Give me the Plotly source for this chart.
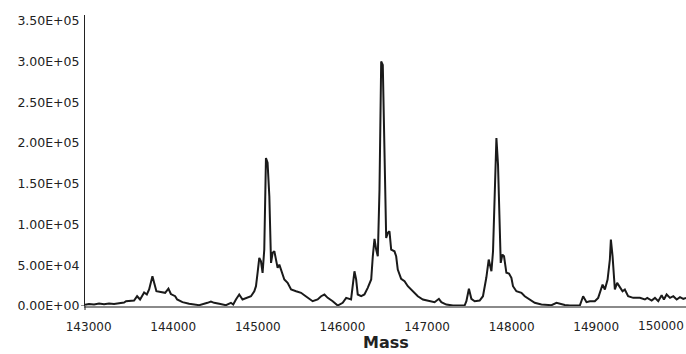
import plotly.graph_objects as go

mass = [142957, 143004, 143064, 143123, 143182, 143241, 143300, 143360, 143419, 143442,
        143502, 143537, 143573, 143608, 143656, 143688, 143715, 143754, 143801, 143853,
        143904, 143943, 143972, 144023, 144046, 144109, 144188, 144307, 144366, 144405,
        144445, 144484, 144544, 144623, 144682, 144709, 144741, 144780, 144819, 144860,
        144919, 144958, 144978, 144997, 145017, 145037, 145056, 145076, 145096, 145115,
        145136, 145156, 145175, 145195, 145215, 145234, 145254, 145274, 145313, 145352,
        145393, 145452, 145511, 145550, 145589, 145648, 145707, 145748, 145787, 145826,
        145885, 145944, 146003, 146044, 146102, 146142, 146162, 146181, 146221, 146260,
        146299, 146340, 146359, 146379, 146399, 146418, 146438, 146458, 146477, 146497,
        146517, 146536, 146556, 146576, 146615, 146635, 146654, 146694, 146734, 146773,
        146813, 146852, 146891, 146951, 147030, 147089, 147140, 147169, 147228, 147306,
        147444, 147465, 147495, 147524, 147563, 147622, 147661, 147701, 147729, 147761,
        147780, 147800, 147820, 147839, 147859, 147871, 147891, 147910, 147938, 147969,
        147997, 148016, 148056, 148116, 148155, 148214, 148273, 148352, 148412, 148471,
        148530, 148569, 148628, 148688, 148806, 148845, 148885, 148924, 148983, 149023,
        149075, 149102, 149134, 149161, 149173, 149193, 149220, 149247, 149279, 149311,
        149338, 149377, 149437, 149516, 149575, 149603, 149655, 149694, 149733, 149773,
        149800, 149832, 149872, 149911, 149951, 149990, 150029, 150061]

intensity = [1500, 2500, 1800, 3100, 2200, 3100, 2500, 3100, 4300, 5900,
             6700, 6700, 12000, 8000, 16500, 14100, 20200, 36500, 18100, 16900,
             16200, 21400, 14700, 12000, 8000, 4700, 2700, 1000, 2500, 3900,
             5500, 3900, 2700, 1000, 3900, 1800, 8000, 14100, 8000, 10000,
             12000, 18100, 24300, 40700, 59000, 54900, 40700, 69200, 181500, 175800,
             134500, 52900, 65200, 67100, 54900, 46800, 50800, 44700, 32500, 28400,
             20200, 18100, 16200, 13200, 10000, 5900, 8000, 12000, 14100, 10000,
             5900, 600, 3900, 10000, 8000, 42600, 32500, 14100, 12000, 14100,
             22300, 32500, 61000, 82300, 69200, 61000, 142700, 299900, 295800, 163200,
             83500, 89700, 91600, 69200, 67100, 61000, 44700, 33300, 30400, 24300,
             20200, 16200, 12000, 8000, 5900, 4700, 8800, 4700, 1800, 600,
             600, 5900, 21100, 8800, 5900, 6700, 12000, 34900, 57000, 42600,
             67100, 146800, 206000, 173300, 101900, 52900, 63100, 61000, 40700, 39800,
             34500, 24300, 18100, 16200, 12000, 8000, 3900, 1800, 1800, 1000,
             3900, 2700, 1200, 600, 600, 12000, 4700, 5900, 5900, 10000,
             26300, 20200, 32500, 57000, 81500, 61000, 20200, 28400, 22300, 18100,
             20200, 12000, 10000, 10000, 8000, 10000, 6700, 10000, 5900, 13200,
             8000, 14100, 10000, 12000, 8000, 10800, 8800, 10000]

x_ticks = [143000, 144000, 145000, 146000, 147000, 148000, 149000]
x_last_tick = "150000"
y_ticks = [0, 50000, 100000, 150000, 200000, 250000, 300000, 350000]
y_labels = ["0.00E+00", "5.00E+04", "1.00E+05", "1.50E+05", "2.00E+05",
            "2.50E+05", "3.00E+05", "3.50E+05"]
x_title = "Mass"

FONT = "DejaVu Sans"
W, H = 686, 354
ML, MR, MT, MB = 85, 0, 15, 48
PW = W - ML - MR
PH = H - MT - MB

fig = go.Figure()
fig.add_trace(go.Scatter(x=mass, y=intensity, mode="lines",
                         line=dict(color="#1a1a1a", width=2),
                         hoverinfo="skip", showlegend=False))

fig.update_layout(
    width=W, height=H,
    margin=dict(l=ML, r=MR, t=MT, b=MB, pad=0),
    paper_bgcolor="white", plot_bgcolor="white",
    font=dict(family=FONT, size=12, color="#222222"),
    xaxis=dict(range=[142957, 150061], tickvals=x_ticks,
               ticktext=[str(v) for v in x_ticks],
               showgrid=False, zeroline=False, showline=True,
               linecolor="#8a8a8a", linewidth=2, ticks="",
               ticklabelstandoff=9,
               tickfont=dict(family=FONT, size=12, color="#222222")),
    yaxis=dict(range=[0, 357000], tickvals=y_ticks, ticktext=y_labels,
               showgrid=False, zeroline=False, showline=True,
               linecolor="#222222", linewidth=1, ticks="",
               ticklabelstandoff=2,
               tickfont=dict(family=FONT, size=12.5, color="#222222")),
)

fig.add_annotation(text=x_last_tick, xref="paper", yref="paper",
                   x=(661 - ML) / PW, y=-(326 - (MT + PH)) / PH,
                   xanchor="center", yanchor="middle", showarrow=False,
                   font=dict(family=FONT, size=12, color="#222222"))
fig.add_annotation(text="<b>" + x_title + "</b>", xref="paper", yref="paper",
                   x=0.5, y=-(342.5 - (MT + PH)) / PH,
                   xanchor="center", yanchor="middle", showarrow=False,
                   font=dict(family=FONT, size=16, color="#222222"))

# small crossing ticks at the origin
fig.add_shape(type="line", xref="paper", yref="y", x0=-4 / PW, x1=0, y0=0, y1=0,
              line=dict(color="#222222", width=1))
fig.add_shape(type="line", xref="paper", yref="paper", x0=0, x1=0, y0=-4 / PH, y1=0,
              line=dict(color="#222222", width=1))

fig.write_html("out.html")
